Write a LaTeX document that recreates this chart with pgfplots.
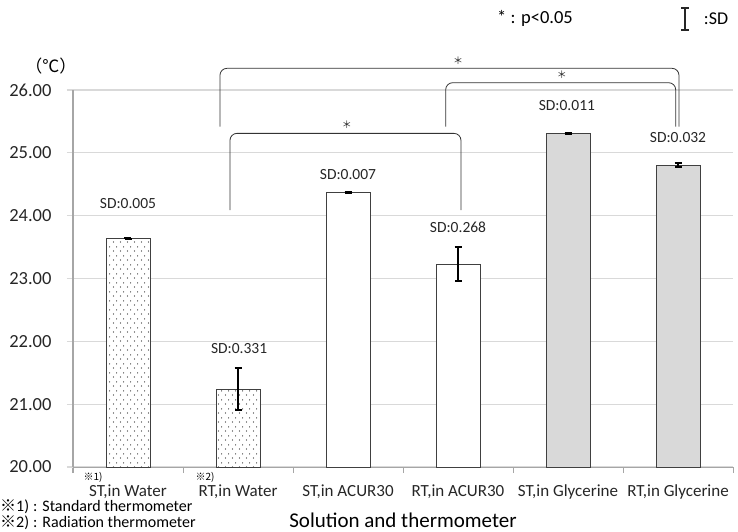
\documentclass[border=0pt]{standalone}
\usepackage{pgfplots}
\pgfplotsset{compat=1.18}
\usepackage{fontspec}
\setmainfont{Carlito}
\newfontfamily\cjk{Noto Sans CJK JP}
\usetikzlibrary{patterns.meta}
\tikzdeclarepattern{name=sdots, type=uncolored,
  bounding box={(0pt,0pt) and (7pt,9pt)}, tile size={(7pt,9pt)},
  code={\fill (1.75pt,2.25pt) circle (0.7pt); \fill (5.25pt,6.75pt) circle (0.7pt);}}
\definecolor{gridc}{HTML}{D9D9D9}
\definecolor{axc}{HTML}{A6A6A6}
\definecolor{barc}{HTML}{404040}
\definecolor{glyc}{HTML}{D9D9D9}
\begin{document}
\begin{tikzpicture}
\useasboundingbox (-73pt,-64pt) rectangle (665pt,467pt);
\begin{axis}[
  at={(0pt,0pt)}, anchor=south west,
  scale only axis, width=660pt, height=377pt,
  xmin=-0.5, xmax=5.5, ymin=20, ymax=26,
  axis lines*=left,
  axis line style={axc, line width=1pt},
  xtick={0,...,5},
  xticklabels={{ST,in Water},{RT,in Water},{ST,in ACUR30},{RT,in ACUR30},{ST,in Glycerine},{RT,in Glycerine}},
  major x tick style={draw=none},
  minor xtick={-0.5,0.5,...,5.5},
  minor tick length=6pt,
  minor x tick style={axc, line width=1pt},
  tick align=outside,
  ytick={20,21,...,26},
  major tick length=6pt,
  y tick style={gridc, line width=1.3pt},
  ymajorgrids,
  grid style={gridc, line width=1.3pt},
  /pgf/number format/assume math mode=true,
  yticklabel style={/pgf/number format/fixed, /pgf/number format/fixed zerofill, /pgf/number format/precision=2, font=\fontsize{18.5}{20}\selectfont, xshift=-12pt, text=black!85},
  xticklabel style={font=\fontsize{17}{18}\selectfont, yshift=-8pt, text=black!85},
]
\addplot[ybar, bar width=44pt, bar shift=0pt, draw=barc, line width=1pt, fill=white,
  postaction={pattern=sdots, pattern color=black!85},
  error bars/.cd, y dir=both, y explicit,
  error bar style={black, line width=2pt, solid},
  error mark options={rotate=90, mark size=3.5pt, line width=2pt, black}]
  coordinates {(0,23.64) +- (0,0.005) (1,21.24) +- (0,0.331)};
\addplot[ybar, bar width=44pt, bar shift=0pt, draw=barc, line width=1pt, fill=white,
  error bars/.cd, y dir=both, y explicit,
  error bar style={black, line width=2pt, solid},
  error mark options={rotate=90, mark size=3.5pt, line width=2pt, black}]
  coordinates {(2,24.37) +- (0,0.007) (3,23.23) +- (0,0.268)};
\addplot[ybar, bar width=44pt, bar shift=0pt, draw=barc, line width=1pt, fill=glyc,
  error bars/.cd, y dir=both, y explicit,
  error bar style={black, line width=2pt, solid},
  error mark options={rotate=90, mark size=3.5pt, line width=2pt, black}]
  coordinates {(4,25.31) +- (0,0.011) (5,24.80) +- (0,0.032)};
\end{axis}
% annotations in data-aligned scope
\begin{scope}[x=110pt, y=62.8333pt, shift={(55pt,-1256.667pt)}]
  \begin{scope}[font=\fontsize{15.5}{16}\selectfont, text=black!85]
  \node at (0,24.19) {SD:0.005};
  \node at (1.01,21.89) {SD:0.331};
  \node at (2,24.66) {SD:0.007};
  \node at (3,23.82) {SD:0.268};
  \node at (3.99,25.76) {SD:0.011};
  \node at (5,25.24) {SD:0.032};
  \end{scope}
  \begin{scope}[line width=0.8pt, black!80, rounded corners=7pt]
  \draw (0.927,24.09) -- (0.927,25.31) -- (3.027,25.31) -- (3.027,24.09);
  \draw (0.836,25.416) -- (0.836,26.345) -- (5.009,26.345) -- (5.009,25.416);
  \draw (2.888,25.416) -- (2.888,26.116) -- (4.979,26.116) -- (4.979,25.416);
  \end{scope}
  \begin{scope}[font=\cjk\fontsize{10}{11}\selectfont, text=black!85]
  \node at (1.99,25.44) {＊};
  \node at (3.0,26.47) {＊};
  \node at (3.945,26.24) {＊};
  \end{scope}
\end{scope}
% y unit
\node[font=\cjk\fontsize{17}{18}\selectfont] at (-22pt,401pt) {（℃）};
% superscripts
\node[font=\cjk\fontsize{10}{11}\selectfont] at (20pt,-10pt) {※1)};
\node[font=\cjk\fontsize{10}{11}\selectfont] at (132pt,-10pt) {※2)};
% footnotes
\node[anchor=west, inner sep=0pt, font=\fontsize{16}{17}\selectfont] at (-73pt,-40pt) {{\cjk ※}1)\hspace{4pt}:\hspace{5pt}Standard thermometer};
\node[anchor=west, inner sep=0pt, font=\fontsize{16}{17}\selectfont] at (-73pt,-56pt) {{\cjk ※}2)\hspace{4pt}:\hspace{5pt}Radiation thermometer};
% x label
\node[font=\fontsize{21}{22}\selectfont] at (330pt,-53pt) {Solution and thermometer};
% legend
\node[font=\fontsize{18.5}{19}\selectfont] at (462pt,449pt) {* : p<0.05};
\draw[line width=2.5pt, black!85] (612pt,437pt) -- (612pt,459pt);
\draw[line width=2pt, black!85] (608pt,437pt) -- (616pt,437pt) (608pt,459pt) -- (616pt,459pt);
\node[font=\fontsize{18}{19}\selectfont] at (643pt,448pt) {:SD};
\end{tikzpicture}
\end{document}
